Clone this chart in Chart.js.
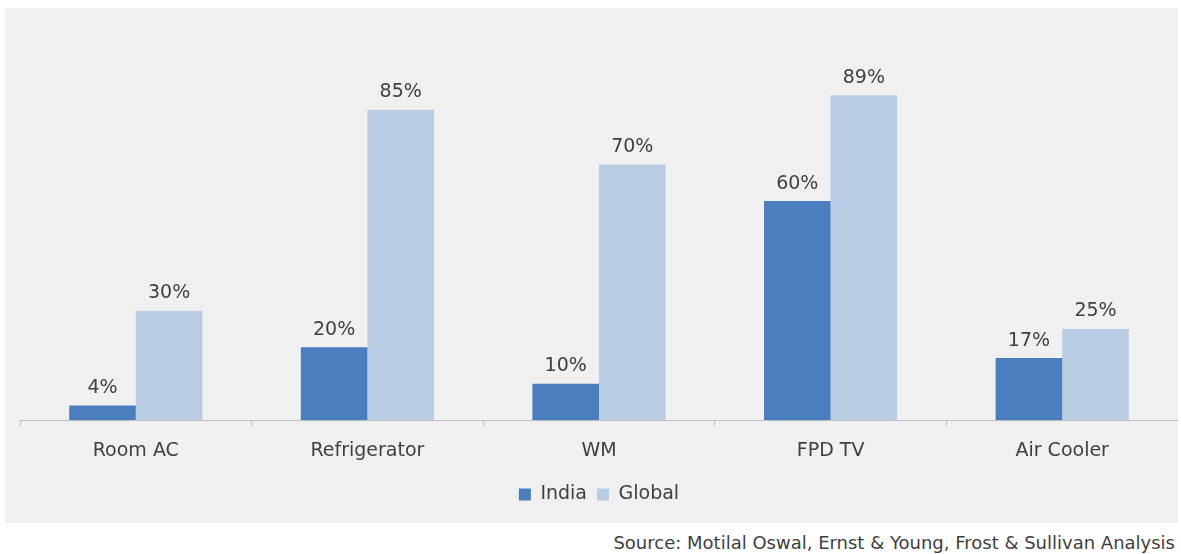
<!DOCTYPE html>
<html lang="en">
<head>
  <meta charset="UTF-8">
  <title>India vs Global penetration</title>
  <script src="https://cdn.jsdelivr.net/npm/chart.js"></script>
  <style>
    body { margin: 0; background: #ffffff; font-family: "DejaVu Sans", sans-serif; }
    .panel { position: absolute; left: 5px; top: 8px; width: 1173px; height: 515px; background: #f0f0f0; }
    .source { position: absolute; top: 532px; right: 6px; font-size: 18px; color: #3f3f3f; }
  </style>
</head>
<body>
  <div class="panel">
    <canvas id="penetration-chart" width="1173" height="515"></canvas>
  </div>
  <div class="source">Source: Motilal Oswal, Ernst &amp; Young, Frost &amp; Sullivan Analysis</div>

  <script>
    // data
    const categories = ['Room AC', 'Refrigerator', 'WM', 'FPD TV', 'Air Cooler'];
    const indiaValues = [4, 20, 10, 60, 17];
    const globalValues = [30, 85, 70, 89, 25];

    // value labels above each bar
    const valueLabels = {
      id: 'valueLabels',
      afterDatasetsDraw(chart) {
        const ctx = chart.ctx;
        ctx.save();
        ctx.font = '19px "DejaVu Sans", sans-serif';
        ctx.fillStyle = '#404040';
        ctx.textAlign = 'center';
        ctx.textBaseline = 'bottom';
        chart.data.datasets.forEach((ds, i) => {
          chart.getDatasetMeta(i).data.forEach((bar, j) => {
            ctx.fillText(ds.data[j] + '%', bar.x, bar.y - 8);
          });
        });
        ctx.restore();
      }
    };

    const ctx = document.getElementById('penetration-chart').getContext('2d');
    new Chart(ctx, {
      type: 'bar',
      data: {
        labels: categories,
        datasets: [
          {
            label: 'India',
            data: indiaValues,
            backgroundColor: '#4a7ebe',
            barPercentage: 1,
            categoryPercentage: 0.575
          },
          {
            label: 'Global',
            data: globalValues,
            backgroundColor: '#b8cce4',
            barPercentage: 1,
            categoryPercentage: 0.575
          }
        ]
      },
      options: {
        responsive: false,
        animation: false,
        layout: { padding: { left: 15, right: 0, top: 47, bottom: 9 } },
        plugins: {
          tooltip: { enabled: false },
          legend: {
            position: 'bottom',
            labels: {
              boxWidth: 12,
              boxHeight: 12,
              padding: 10,
              color: '#404040',
              font: { family: 'DejaVu Sans', size: 19 }
            }
          }
        },
        scales: {
          x: {
            border: { color: '#bfbfbf', width: 1 },
            grid: { drawOnChartArea: false, color: '#bfbfbf', tickLength: 6 },
            ticks: {
              color: '#404040',
              padding: 13,
              font: { family: 'DejaVu Sans', size: 19 }
            }
          },
          y: {
            display: false,
            min: 0,
            max: 100
          }
        }
      },
      plugins: [valueLabels]
    });
  </script>
</body>
</html>
